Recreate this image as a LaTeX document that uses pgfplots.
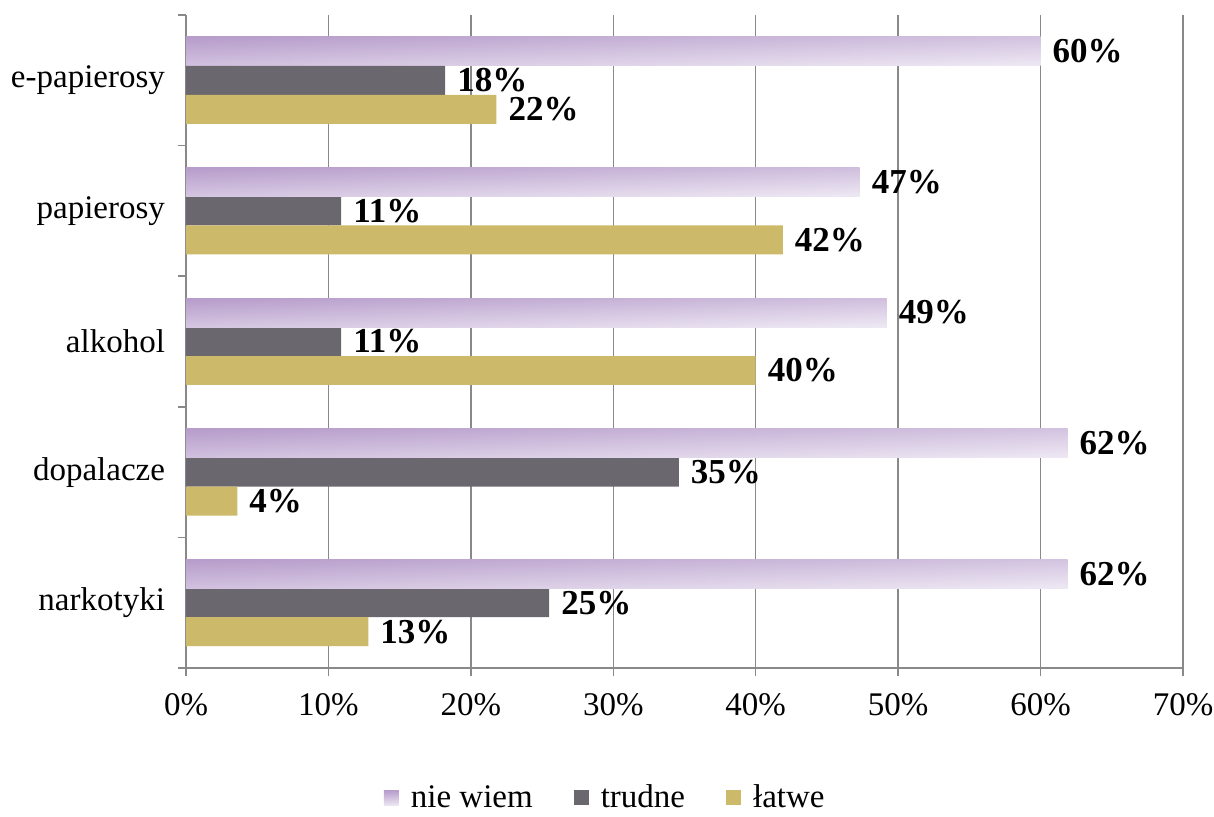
\documentclass[border=0pt]{standalone}
\usepackage{fontspec}
\setmainfont{Liberation Serif}
\usepackage{pgfplots}
\pgfplotsset{compat=1.18}
\definecolor{lav1}{HTML}{B79DCB}
\definecolor{lav2}{HTML}{EDE7F3}
\definecolor{trud}{HTML}{6B676F}
\definecolor{latw}{HTML}{CDB96A}
\definecolor{gridc}{HTML}{898989}
\begin{document}
\begin{tikzpicture}
\useasboundingbox (-93pt,-74pt) rectangle (514pt,334pt);
\begin{axis}[
  scale only axis, width=498.5pt, height=326.5pt,
  xbar, bar width=0.222,
  xmin=0, xmax=70, ymin=-0.5, ymax=4.5,
  axis x line*=bottom, axis y line*=left,
  axis line style={-, draw=gridc, line width=0.75pt},
  xtick={0,10,...,70},
  xticklabel={\pgfmathprintnumber{\tick}\%},
  xmajorgrids, grid style={draw=gridc, line width=0.75pt},
  tick align=outside, major tick length=4pt,
  tick style={draw=gridc, line width=0.75pt},
  ytick={-0.5,0.5,...,4.5}, yticklabels={},
  extra y ticks={0,1,2,3,4},
  extra y tick labels={narkotyki,dopalacze,alkohol,papierosy,e-papierosy},
  extra y tick style={major tick length=0pt, yticklabel style={xshift=-7pt}, grid=none},
  /pgf/number format/assume math mode=true,
  tick label style={font=\fontsize{16.5}{19}\selectfont, text=black},
  xticklabel style={yshift=-5pt},
  point meta=explicit symbolic,
  nodes near coords,
  every node near coord/.append style={font=\fontsize{17.5}{20}\bfseries\selectfont, text=black, anchor=west, xshift=2.5pt},
  legend image code/.code={\path[#1,draw=none] (0pt,-3.75pt) rectangle (7.5pt,3.75pt); \path (10pt,0pt);},
  legend columns=-1,
  legend style={at={(0.42,-0.199)}, anchor=center, draw=none, fill=none,
    font=\fontsize{16.5}{19}\selectfont,
    nodes={inner sep=0.5pt},
    /tikz/every odd column/.append style={column sep=3pt},
    /tikz/every even column/.append style={column sep=20pt}},
  lavbar/.style={draw=none, top color=lav1, bottom color=lav2, shading angle=2, bar shift=0.222},
]
\addplot[lavbar] coordinates {(60.0,4) [60\%]};
\addplot[draw=none, fill=trud, bar shift=0]
  coordinates {(25.5,0) [25\%] (34.6,1) [35\%] (10.9,2) [11\%] (10.9,3) [11\%] (18.2,4) [18\%]};
\addplot[draw=none, fill=latw, bar shift=-0.222]
  coordinates {(12.8,0) [13\%] (3.6,1) [4\%] (40.0,2) [40\%] (41.9,3) [42\%] (21.8,4) [22\%]};
\addplot[lavbar, forget plot] coordinates {(47.3,3) [47\%]};
\addplot[lavbar, forget plot] coordinates {(49.2,2) [49\%]};
\addplot[lavbar, forget plot] coordinates {(61.9,1) [62\%]};
\addplot[lavbar, forget plot] coordinates {(61.9,0) [62\%]};
\legend{nie wiem, trudne, łatwe}
\end{axis}
\end{tikzpicture}
\end{document}
